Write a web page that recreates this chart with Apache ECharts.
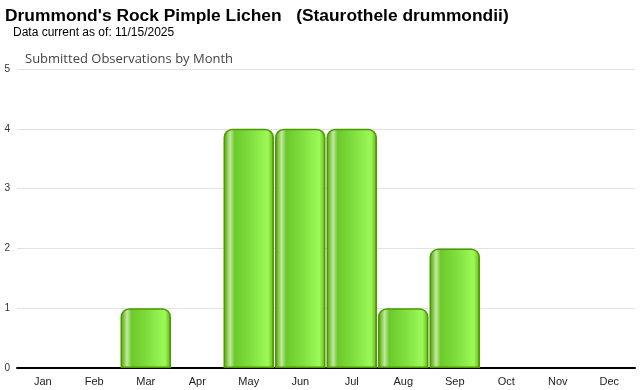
<!DOCTYPE html>
<html><head><meta charset="utf-8">
<script src="https://cdn.jsdelivr.net/npm/echarts@6/dist/echarts.min.js"></script>
<style>html,body{margin:0;padding:0;background:#fff}#c{width:640px;height:390px}</style>
</head><body><div id="c"></div>
<script>
const months = ['Jan','Feb','Mar','Apr','May','Jun','Jul','Aug','Sep','Oct','Nov','Dec'];
const observations = [0,0,1,0,4,4,4,1,2,0,0,0];
const yTicks = [0,1,2,3,4,5];
const titleText = "Drummond's Rock Pimple Lichen   (Staurothele drummondii)";
const subtitleText = 'Data current as of: 11/15/2025';
const chartLabel = 'Submitted Observations by Month';

const chart = echarts.init(document.getElementById('c'));
const grad = new echarts.graphic.LinearGradient(0,0,1,0,[
  {offset:0, color:'#4f9e00'},
  {offset:0.06, color:'#7cc23a'},
  {offset:0.13, color:'#c4e8a4'},
  {offset:0.22, color:'#6cc92a'},
  {offset:0.55, color:'#80e040'},
  {offset:0.88, color:'#9cfa58'},
  {offset:0.95, color:'#7ad030'},
  {offset:1, color:'#4f9e00'}
]);
chart.setOption({
  animation:false,
  title:[
    {text:titleText, left:5, top:8, padding:0, textStyle:{fontFamily:'Liberation Sans, Arial', fontSize:17.4, fontWeight:'bold', color:'#000'}},
    {text:subtitleText, left:13, top:27, padding:0, textStyle:{fontFamily:'Liberation Sans, Arial', fontSize:12, fontWeight:'normal', color:'#000'}},
    {text:chartLabel, left:25, top:53, padding:0, textStyle:{fontFamily:'Open Sans', fontSize:13, fontWeight:'normal', color:'#444'}}
  ],
  grid:{left:17, right:5, top:69, bottom:22, containLabel:false},
  xAxis:{type:'category', data:months,
    axisLine:{lineStyle:{color:'#000', width:2}},
    axisTick:{alignWithLabel:true, length:5, lineStyle:{color:'#ccc'}},
    axisLabel:{fontFamily:'Liberation Sans, Arial', fontSize:11, color:'#222', margin:8}},
  yAxis:{type:'value', min:0, max:5, interval:1,
    axisLine:{show:false}, axisTick:{show:false},
    axisLabel:{fontFamily:'Liberation Sans, Arial', fontSize:10, color:'#333', margin:7,
      formatter:v=>yTicks.includes(v)?String(v):''},
    splitLine:{lineStyle:{color:'#e2e2e2'}}},
  series:[{type:'bar', data:observations.map(v=>v===0?'-':v), barCategoryGap:'2%',
    itemStyle:{color:grad, borderColor:'#4a9a00', borderWidth:1.5, borderRadius:[8,8,0,0]}}]
});
</script></body></html>
